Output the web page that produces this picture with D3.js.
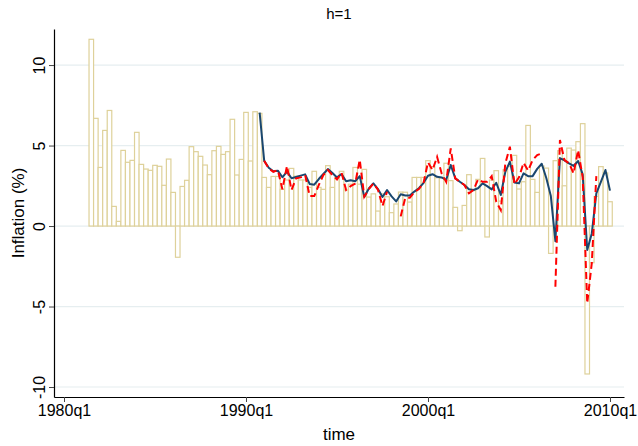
<!DOCTYPE html>
<html>
<head>
<meta charset="utf-8">
<script src="https://cdn.jsdelivr.net/npm/d3@7"></script>
<style>
  html, body { margin: 0; padding: 0; background: #ffffff; }
  svg { display: block; font-family: "Liberation Sans", Arial, sans-serif; }
</style>
</head>
<body>
<svg id="chart" width="638" height="446"></svg>
<script>
// ---- Data (quarter index q: 0 = 1980q1) ----
const barStartQ = 6; // 1981q3
const inflation = [
  11.6, 6.69, 3.64, 5.94, 7.18, 1.22, 0.29, 4.70, 3.96, 4.08,
  5.82, 3.83, 3.54, 3.46, 3.77, 3.71, 2.53, 4.16, 2.09, -1.94,
  2.46, 2.84, 4.93, 4.62, 4.33, 3.79, 3.19, 4.68, 4.95, 4.45,
  4.62, 6.63, 3.17, 4.14, 7.06, 4.04, 7.10, 7.0, 3.02, 2.40,
  3.08, 3.08, 2.28, 2.86, 3.58, 3.10, 2.86, 2.86, 2.40, 3.40,
  2.40, 2.28, 3.75, 2.40, 3.02, 3.40, 2.24, 2.6, 3.64, 2.6,
  3.52, 1.8, 2.0, 0.93, 2.0, 1.82, 0.83, 1.37, 2.11, 2.1,
  1.49, 3.02, 3.02, 3.02, 4.06, 3.69, 3.0, 3.0, 3.9, 2.82,
  1.16, -0.29, 1.28, 3.19, 2.2, 2.9, 4.2, -0.68, 2.86, 3.44,
  1.55, 3.5, 3.7, 4.39, 2.3, 2.75, 6.25, 2.9, 2.09, 3.73,
  3.6, -1.70, 4.06, 4.68, 2.5, 4.84, 4.72, 5.24, 6.36, -9.19,
  -2.28, 1.84, 3.69, 3.3, 1.51
];

const blueStartQ = 43; // 1990q4
const forecastBlue = [
  7.04, 4.05, 3.62, 3.40, 3.44, 3.03, 3.38, 2.97, 3.05, 3.13,
  3.21, 2.61, 2.57, 2.92, 3.23, 3.54, 3.29, 3.02, 3.23, 2.78,
  2.84, 2.78, 3.1, 1.8, 2.33, 2.65, 2.3, 1.8, 2.24, 1.84,
  1.53, 1.98, 1.9, 1.9, 2.14, 2.35, 2.67, 3.12, 3.22, 3.06,
  3.02, 2.86, 3.79, 2.96, 2.75, 2.55, 2.28, 2.24, 2.35, 2.65,
  2.48, 2.28, 2.69, 1.93, 3.37, 4.0, 2.7, 2.65, 3.27, 3.1,
  3.1, 3.55, 3.87, 2.98, 1.86, -0.94, 4.22, 4.08, 3.89, 3.73,
  4.04, 3.21, -1.49, -0.46, 2.03, 2.75, 3.48, 2.2
];

const redStartQ = 44; // 1991q1
const forecastRed = [
  4.06, 3.58, 3.37, 3.48, 2.28, 3.73, 2.24, 2.96, 3.02, 3.17,
  1.86, 1.86, 2.55, 3.17, 3.48, 3.17, 2.9, 3.31, 2.24, 2.48,
  2.63, 4.12, 1.82, 2.3, 2.65, 2.26, 1.24, 2.13, null, null,
  0.6, 1.75, 1.75, 2.1, 2.3, 2.65, 3.96, 3.48, 4.3, 3.27,
  2.75, 4.82, 2.96, 2.75, 2.55, 2.03, 2.24, 2.9, 2.75, 2.75,
  3.1, 1.51, 0.99, 3.89, 4.93, 2.6, 3.02, 3.93, 3.44, 4.1,
  4.41, 4.51, null, null, -3.77, 5.34, 4.1, 3.9, 3.27, 4.72,
  3.02, -4.8, -2.3, 3.1
];

const yTicks = [-10, -5, 0, 5, 10];
const yTickLabels = ["-10", "-5", "0", "5", "10"];
const xTickQ = [0, 40, 80, 120];
const xTickLabels = ["1980q1", "1990q1", "2000q1", "2010q1"];
const titleText = "h=1";
const yTitle = "Inflation (%)";
const xTitle = "time";

// ---- Layout ----
const plot = { left: 54, right: 624, top: 29, bottom: 397 };
const svg = d3.select("#chart");

const x = d3.scaleLinear().domain([-2.198, 123.08]).range([plot.left, plot.right]);
const y = d3.scaleLinear().domain([-10.62, 12.24]).range([plot.bottom, plot.top]);
const barW = x(1) - x(0);

// grid
svg.append("g").selectAll("line").data(yTicks).join("line")
  .attr("x1", plot.left).attr("x2", plot.right)
  .attr("y1", d => y(d)).attr("y2", d => y(d))
  .attr("stroke", "#e6eef0").attr("stroke-width", 1.2);

// bars
const barData = inflation.map((v, i) => ({ q: barStartQ + i, v }));
svg.append("g").selectAll("rect").data(barData).join("rect")
  .attr("x", d => x(d.q) - barW / 2)
  .attr("width", barW)
  .attr("y", d => y(Math.max(0, d.v)))
  .attr("height", d => Math.abs(y(d.v) - y(0)))
  .attr("fill", "#ffffff")
  .attr("stroke", "#ded19a")
  .attr("stroke-width", 1.2);

// lines
const blueData = forecastBlue.map((v, i) => ({ q: blueStartQ + i, v }));
const redData = forecastRed.map((v, i) => ({ q: redStartQ + i, v }));
const line = d3.line().defined(d => d.v !== null).x(d => x(d.q)).y(d => y(d.v));

svg.append("path").datum(blueData)
  .attr("d", line).attr("fill", "none")
  .attr("stroke", "#1a476f").attr("stroke-width", 2)
  .attr("stroke-linejoin", "round");

svg.append("path").datum(redData)
  .attr("d", line).attr("fill", "none")
  .attr("stroke", "#ff0000").attr("stroke-width", 2)
  .attr("stroke-dasharray", "7,4");

// y axis
const yAxis = svg.append("g").attr("transform", `translate(${plot.left},0)`)
  .call(d3.axisLeft(y).tickValues(yTicks).tickSize(5).tickSizeOuter(0)
    .tickFormat((d, i) => yTickLabels[i]));
yAxis.select(".domain").attr("stroke", "#000").attr("stroke-width", 1.2);
yAxis.selectAll(".tick line").attr("stroke", "#444");
yAxis.selectAll(".tick text")
  .attr("transform", "rotate(-90)")
  .attr("x", 0).attr("y", -9).attr("dy", 0)
  .attr("text-anchor", "middle")
  .attr("font-size", 16).attr("fill", "#000")
  .attr("font-family", "Liberation Sans, Arial, sans-serif");

// x axis
const xAxis = svg.append("g").attr("transform", `translate(0,${plot.bottom})`)
  .call(d3.axisBottom(x).tickValues(xTickQ).tickSize(5).tickSizeOuter(0)
    .tickFormat((d, i) => xTickLabels[i]));
xAxis.select(".domain").attr("stroke", "#000").attr("stroke-width", 1.2);
xAxis.selectAll(".tick line").attr("stroke", "#444");
xAxis.selectAll(".tick text")
  .attr("font-size", 16).attr("fill", "#000")
  .attr("font-family", "Liberation Sans, Arial, sans-serif");

// titles
svg.append("text").attr("x", 339).attr("y", 19)
  .attr("text-anchor", "middle").attr("font-size", 15).attr("fill", "#000")
  .text(titleText);

svg.append("text").attr("transform", `translate(24,${(plot.top + plot.bottom) / 2}) rotate(-90)`)
  .attr("text-anchor", "middle").attr("font-size", 17).attr("fill", "#000")
  .text(yTitle);

svg.append("text").attr("x", (plot.left + plot.right) / 2).attr("y", 440)
  .attr("text-anchor", "middle").attr("font-size", 17).attr("fill", "#000")
  .text(xTitle);
</script>
</body>
</html>
